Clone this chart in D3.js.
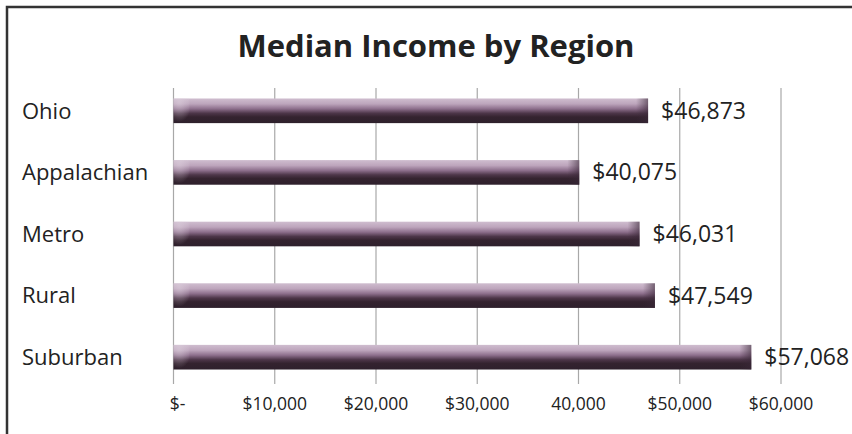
<!DOCTYPE html>
<html>
<head>
<meta charset="utf-8">
<script src="https://cdn.jsdelivr.net/npm/d3@7"></script>
<style>
  body { margin: 0; background: #fff; }
  text { font-family: "Open Sans", Lato, sans-serif; fill: #222; }
</style>
</head>
<body>
<div id="chart"></div>
<script>
var width = 852,
    height = 434;

var regions = ["Ohio", "Appalachian", "Metro", "Rural", "Suburban"];
var incomes = [46873, 40075, 46031, 47549, 57068];
var valueLabels = ["$46,873", "$40,075", "$46,031", "$47,549", "$57,068"];
var tickValues = [0, 10000, 20000, 30000, 40000, 50000, 60000];
var tickLabels = ["$-", "$10,000", "$20,000", "$30,000", "40,000", "$50,000", "$60,000"];

var svg = d3.select("#chart").append("svg")
    .attr("width", width)
    .attr("height", height);

var x = d3.scaleLinear()
    .domain([0, 60000])
    .range([173.5, 781]);

var y = d3.scaleBand()
    .domain(regions)
    .range([80, 388])
    .paddingInner(0.6)
    .paddingOuter(0.3);

// chart border (runs off the right and bottom edge)
svg.append("rect")
    .attr("x", 7)
    .attr("y", 7)
    .attr("width", width + 20)
    .attr("height", height + 20)
    .style("fill", "none")
    .style("stroke", "#333")
    .style("stroke-width", 2.5);

var defs = svg.append("defs");

var grad = defs.append("linearGradient")
    .attr("id", "barGrad")
    .attr("x1", 0).attr("y1", 0)
    .attr("x2", 0).attr("y2", 1);
grad.selectAll("stop")
    .data([[0, "#cfbdcf"], [0.22, "#bda5bc"], [0.42, "#8d6f8c"], [0.6, "#4d3649"], [0.75, "#34232f"], [1, "#2e202c"]])
    .enter().append("stop")
    .attr("offset", function(d) { return d[0]; })
    .attr("stop-color", function(d) { return d[1]; });

// soft highlight at the left cap of each bar
var capL = defs.append("radialGradient")
    .attr("id", "capLeft")
    .attr("cx", 0.35).attr("cy", 0.15).attr("r", 0.8);
capL.append("stop").attr("offset", 0).attr("stop-color", "#ddd0dd").attr("stop-opacity", 0.6);
capL.append("stop").attr("offset", 1).attr("stop-color", "#ddd0dd").attr("stop-opacity", 0);

// darker shading at the right cap
var capR = defs.append("linearGradient")
    .attr("id", "capRight")
    .attr("x1", 0).attr("y1", 0)
    .attr("x2", 1).attr("y2", 0);
capR.append("stop").attr("offset", 0).attr("stop-color", "#3a2838").attr("stop-opacity", 0);
capR.append("stop").attr("offset", 1).attr("stop-color", "#3a2838").attr("stop-opacity", 0.6);

// gridlines
svg.append("g")
    .selectAll("line")
    .data(tickValues)
    .enter().append("line")
    .attr("x1", function(d) { return x(d); })
    .attr("x2", function(d) { return x(d); })
    .attr("y1", 88)
    .attr("y2", 384)
    .style("stroke", "#a8a8a8")
    .style("stroke-width", 1.2);

var bars = svg.append("g")
    .selectAll("g")
    .data(incomes)
    .enter().append("g");

bars.append("rect")
    .attr("x", x(0))
    .attr("y", function(d, i) { return y(regions[i]); })
    .attr("width", function(d) { return x(d) - x(0); })
    .attr("height", y.bandwidth())
    .style("fill", "url(#barGrad)");

bars.append("rect")
    .attr("x", x(0))
    .attr("y", function(d, i) { return y(regions[i]); })
    .attr("width", 16)
    .attr("height", y.bandwidth())
    .style("fill", "url(#capLeft)");

bars.append("rect")
    .attr("x", function(d) { return x(d) - 12; })
    .attr("y", function(d, i) { return y(regions[i]); })
    .attr("width", 12)
    .attr("height", y.bandwidth())
    .style("fill", "url(#capRight)");

// value labels
bars.append("text")
    .attr("x", function(d) { return x(d) + 13; })
    .attr("y", function(d, i) { return y(regions[i]) + y.bandwidth() / 2; })
    .attr("dy", "0.35em")
    .style("font-size", "23px")
    .text(function(d, i) { return valueLabels[i]; });

// category labels
svg.append("g")
    .selectAll("text")
    .data(regions)
    .enter().append("text")
    .attr("x", 22)
    .attr("y", function(d) { return y(d) + y.bandwidth() / 2; })
    .attr("dy", "0.35em")
    .style("font-size", "22px")
    .text(function(d) { return d; });

// x tick labels
svg.append("g")
    .selectAll("text")
    .data(tickValues)
    .enter().append("text")
    .attr("x", function(d, i) { return x(d) + (i === 0 ? 4 : 0); })
    .attr("y", 404)
    .attr("dy", "0.35em")
    .attr("text-anchor", "middle")
    .style("font-size", "17.5px")
    .text(function(d, i) { return tickLabels[i]; });

svg.append("text")
    .attr("x", 436)
    .attr("y", 46)
    .attr("dy", "0.35em")
    .attr("text-anchor", "middle")
    .style("font-size", "31px")
    .style("font-weight", "bold")
    .text("Median Income by Region");
</script>
</body>
</html>
